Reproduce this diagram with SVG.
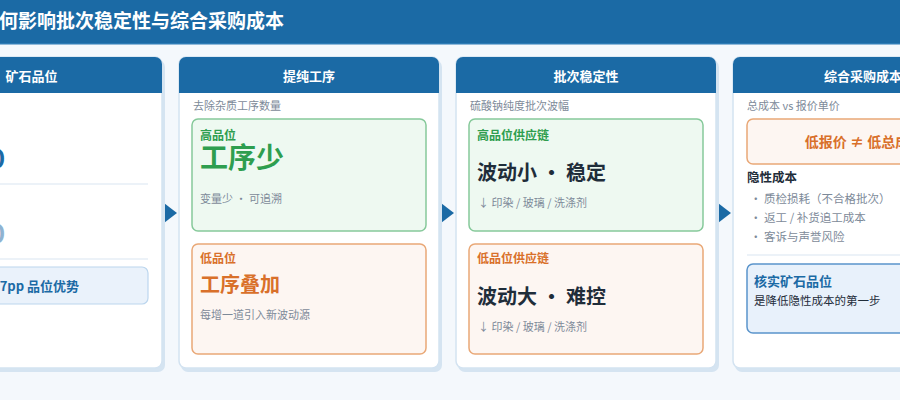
<svg xmlns="http://www.w3.org/2000/svg" width="900" height="400" viewBox="0 0 900 400">
<defs>
<style>
text{font-family:"Noto Sans CJK SC","Noto Sans",sans-serif;}
.bg{fill:#f4f8fc;}
.shadow{fill:#d5e4f1;}
.card{fill:#ffffff;stroke:#d3e3f1;stroke-width:1.5;}
.hdr{fill:#1b6aa5;}
.htxt{fill:#ffffff;font-size:13px;font-weight:700;text-anchor:middle;}
.sub{fill:#7d8a99;font-size:11px;}
.gbox{fill:#eef9f1;stroke:#86c99a;stroke-width:1.5;}
.obox{fill:#fdf6f2;stroke:#e9a877;stroke-width:1.5;}
.bbox{fill:#e8f1fb;stroke:#5a94cb;stroke-width:1.5;}
.lbox{fill:#eaf2fb;stroke:#bcd6ee;stroke-width:1.2;}
.g{fill:#2e9e4f;font-weight:700;}
.o{fill:#d9702a;font-weight:700;}
.dark{fill:#1f2d3a;}
.grey{fill:#7d8a99;}
.blue{fill:#1b6aa5;font-weight:700;}
.sep{stroke:#e6eef6;stroke-width:1.5;}
.arrow{fill:#1b6aa5;}
.stub{fill:#eaf2fa;stroke:#c4d9ec;stroke-width:0.8;}
</style>
</defs>
<rect class="bg" x="0" y="0" width="900" height="400"/>
<g id="title">
<rect x="0" y="0" width="900" height="44" fill="#1b6aa5"/>
<rect x="0" y="43" width="900" height="1.5" fill="#2d7bb5"/>
<text x="-1" y="28" fill="#ffffff" font-size="19" font-weight="700">何影响批次稳定性与综合采购成本</text>
</g>
<g id="connectors">
<path class="arrow" d="M160,200 L177,213 L160,226 Z"/>
<rect class="stub" x="160" y="208" width="4" height="10"/>
<path class="arrow" d="M437,200 L454,213 L437,226 Z"/>
<rect class="stub" x="437" y="208" width="4" height="10"/>
<path class="arrow" d="M714,200 L731,213 L714,226 Z"/>
<rect class="stub" x="714" y="208" width="4" height="10"/>
</g>
<g id="col-grade">
<rect class="shadow" x="-96" y="60" width="261" height="312" rx="7"/>
<rect class="card" x="-98" y="57" width="260" height="311" rx="7"/>
<path class="hdr" d="M-98,93 V64 a7,7 0 0 1 7,-7 H155 a7,7 0 0 1 7,7 V93 Z"/>
<text class="htxt" x="31.5" y="81">矿石品位</text>
<text x="5" y="168" fill="#1b6aa5" font-size="26" font-weight="700" text-anchor="end">0</text>
<line class="sep" x1="-85" y1="184" x2="148" y2="184"/>
<text x="5" y="243" fill="#8fb3d1" font-size="26" font-weight="700" text-anchor="end">0</text>
<line class="sep" x1="-85" y1="259" x2="148" y2="259"/>
<rect class="lbox" x="-85" y="267" width="233" height="37" rx="6"/>
<text x="79" y="291" fill="#1b6aa5" font-size="13" font-weight="700" text-anchor="end">7pp 品位优势</text>
</g>
<g id="col-process">
<rect class="shadow" x="181" y="60" width="261" height="312" rx="7"/>
<rect class="card" x="179" y="57" width="260" height="311" rx="7"/>
<path class="hdr" d="M179,93 V64 a7,7 0 0 1 7,-7 H432 a7,7 0 0 1 7,7 V93 Z"/>
<text class="htxt" x="309" y="81">提纯工序</text>
<text class="sub" x="193" y="110">去除杂质工序数量</text>
<rect class="gbox" x="192" y="119" width="234" height="112" rx="6"/>
<text class="g" x="200" y="140" font-size="12">高品位</text>
<text class="g" x="200" y="168" font-size="28">工序少</text>
<text class="grey" x="200" y="203" font-size="11">变量少 · 可追溯</text>
<rect class="obox" x="192" y="244" width="234" height="110" rx="6"/>
<text class="o" x="200" y="263" font-size="12">低品位</text>
<text class="o" x="200" y="292" font-size="20">工序叠加</text>
<text class="grey" x="200" y="319" font-size="11">每增一道引入新波动源</text>
</g>
<g id="col-stability">
<rect class="shadow" x="458" y="60" width="261" height="312" rx="7"/>
<rect class="card" x="456" y="57" width="260" height="311" rx="7"/>
<path class="hdr" d="M456,93 V64 a7,7 0 0 1 7,-7 H709 a7,7 0 0 1 7,7 V93 Z"/>
<text class="htxt" x="586" y="81">批次稳定性</text>
<text class="sub" x="470" y="110">硫酸钠纯度批次波幅</text>
<rect class="gbox" x="469" y="119" width="234" height="112" rx="6"/>
<text class="g" x="477" y="140" font-size="12">高品位供应链</text>
<text class="dark" x="477" y="180" font-size="20" font-weight="700">波动小 · 稳定</text>
<text class="grey" x="478" y="207" font-size="11">↓ 印染 / 玻璃 / 洗涤剂</text>
<rect class="obox" x="469" y="244" width="234" height="110" rx="6"/>
<text class="o" x="477" y="263" font-size="12">低品位供应链</text>
<text class="dark" x="477" y="304" font-size="20" font-weight="700">波动大 · 难控</text>
<text class="grey" x="478" y="331" font-size="11">↓ 印染 / 玻璃 / 洗涤剂</text>
</g>
<g id="col-cost">
<rect class="shadow" x="735" y="60" width="261" height="312" rx="7"/>
<rect class="card" x="733" y="57" width="260" height="311" rx="7"/>
<path class="hdr" d="M733,93 V64 a7,7 0 0 1 7,-7 H986 a7,7 0 0 1 7,7 V93 Z"/>
<text class="htxt" x="863" y="81">综合采购成本</text>
<text class="sub" x="747" y="110">总成本 vs 报价单价</text>
<rect class="obox" x="747" y="119" width="234" height="45" rx="6"/>
<text class="o" x="864" y="147" font-size="14" text-anchor="middle">低报价 ≠ 低总成本</text>
<text class="dark" x="747" y="182" font-size="12.5" font-weight="700">隐性成本</text>
<text class="grey" x="750" y="203" font-size="11.5">·  质检损耗（不合格批次）</text>
<text class="grey" x="750" y="222" font-size="11.5">·  返工 / 补货追工成本</text>
<text class="grey" x="750" y="241" font-size="11.5">·  客诉与声誉风险</text>
<line class="sep" x1="747" y1="255" x2="980" y2="255"/>
<rect class="bbox" x="747" y="264" width="234" height="69" rx="6"/>
<text class="blue" x="754" y="286" font-size="13">核实矿石品位</text>
<text class="dark" x="754" y="305" font-size="11.5">是降低隐性成本的第一步</text>
</g>
</svg>
